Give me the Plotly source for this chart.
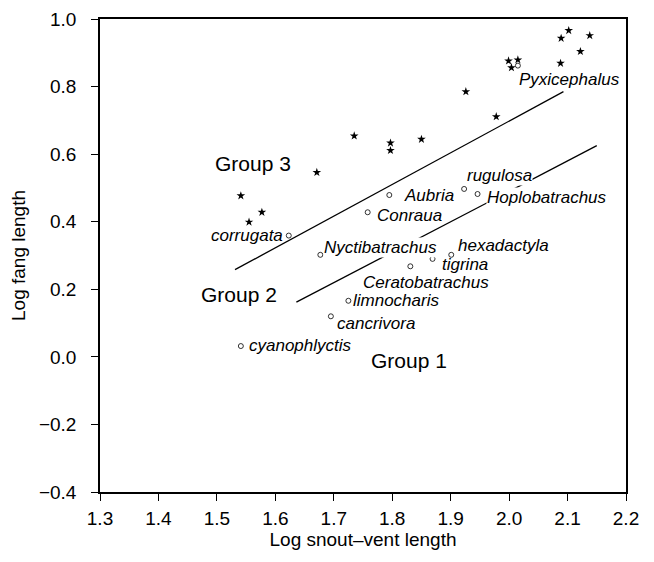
import plotly.graph_objects as go

# Group 3 species (stars), unlabeled
star_x = [2.102, 2.089, 2.138, 2.122, 2.088, 1.999, 2.015, 2.004, 1.926, 1.978,
          1.735, 1.797, 1.797, 1.850, 1.671, 1.541, 1.577, 1.555]
star_y = [0.966, 0.943, 0.951, 0.904, 0.869, 0.876, 0.879, 0.856, 0.785, 0.711,
          0.654, 0.633, 0.611, 0.644, 0.546, 0.477, 0.428, 0.399]

# Labelled species (open circles)
species = ["Pyxicephalus", "corrugata", "Aubria", "Conraua", "Nyctibatrachus",
           "rugulosa", "Hoplobatrachus", "hexadactyla", "tigrina", "Ceratobatrachus",
           "limnocharis", "cancrivora", "cyanophlyctis"]
sp_x = [2.015, 1.623, 1.795, 1.758, 1.677, 1.923, 1.946, 1.901, 1.869, 1.831,
        1.725, 1.695, 1.541]
sp_y = [0.862, 0.359, 0.479, 0.428, 0.302, 0.497, 0.482, 0.302, 0.290, 0.268,
        0.166, 0.120, 0.032]

# Group boundary lines (start/end in data units)
line_upper_x = [1.531, 2.093]
line_upper_y = [0.258, 0.785]
line_lower_x = [1.636, 2.150]
line_lower_y = [0.162, 0.625]

group_names = ["Group 3", "Group 2", "Group 1"]
group_x = [1.5625, 1.537, 1.829]
group_y = [0.571, 0.184, -0.010]

x_ticks = [1.3, 1.4, 1.5, 1.6, 1.7, 1.8, 1.9, 2.0, 2.1, 2.2]
y_ticks = [-0.4, -0.2, 0.0, 0.2, 0.4, 0.6, 0.8, 1.0]

# label placement (pixel offsets from point): xanchor, xshift, yshift, masked
label_style = {
    "Pyxicephalus": ("left", 0, -14, True),
    "corrugata": ("right", -5, 0, False),
    "Aubria": ("left", 14, 0, False),
    "Conraua": ("left", 8, -3, False),
    "Nyctibatrachus": ("left", 3, 7, True),
    "rugulosa": ("left", 2, 13, True),
    "Hoplobatrachus": ("left", 8, -3, True),
    "hexadactyla": ("left", 6, 9, False),
    "tigrina": ("left", 8, -5.5, False),
    "Ceratobatrachus": ("left", -48, -16, False),
    "limnocharis": ("left", 4, 0.5, False),
    "cancrivora": ("left", 5, -7, False),
    "cyanophlyctis": ("left", 7, 1, False),
}

FONT = "Arial, Liberation Sans, Helvetica, sans-serif"

fig = go.Figure()
fig.add_trace(go.Scatter(x=line_upper_x, y=line_upper_y, mode="lines",
                         line=dict(color="black", width=1.3), showlegend=False,
                         hoverinfo="skip"))
fig.add_trace(go.Scatter(x=line_lower_x, y=line_lower_y, mode="lines",
                         line=dict(color="black", width=1.3), showlegend=False,
                         hoverinfo="skip"))
fig.add_trace(go.Scatter(x=star_x, y=star_y, mode="markers",
                         marker=dict(symbol="star", size=6.5, color="black",
                                     line=dict(width=0)),
                         showlegend=False))
fig.add_trace(go.Scatter(x=sp_x, y=sp_y, mode="markers", text=species,
                         marker=dict(symbol="circle-open", size=5, color="black",
                                     line=dict(width=0.8, color="black")),
                         showlegend=False))

for name, x, y in zip(species, sp_x, sp_y):
    xa, xs, ys, masked = label_style[name]
    fig.add_annotation(x=x, y=y, text=name, showarrow=False, xanchor=xa,
                       yanchor="middle", xshift=xs, yshift=ys, borderpad=0,
                       bgcolor="white" if masked else "rgba(0,0,0,0)",
                       font=dict(family=FONT, size=17, color="black", style="italic"))

for name, x, y in zip(group_names, group_x, group_y):
    fig.add_annotation(x=x, y=y, text=name, showarrow=False, xanchor="center",
                       yanchor="middle", font=dict(family=FONT, size=21, color="black"))

axis_common = dict(showgrid=False, zeroline=False, showline=True, linecolor="black",
                   linewidth=1.5, mirror=True, ticks="outside", ticklen=7,
                   tickwidth=1.2, tickcolor="black", automargin=False,
                   ticklabeloverflow="allow",
                   tickfont=dict(family=FONT, size=19, color="black"))

fig.update_xaxes(range=[1.3, 2.2], tickvals=x_ticks,
                 ticktext=[f"{v:.1f}" for v in x_ticks],
                 title=dict(text="Log snout\u2013vent length",
                            font=dict(family=FONT, size=19, color="black"),
                            standoff=2),
                 ticklabelstandoff=1, **axis_common)
fig.update_yaxes(range=[-0.4, 1.0], tickvals=y_ticks,
                 ticktext=[f"{v:.1f}".replace("-", "\u2212") for v in y_ticks],
                 title=dict(text="Log fang length",
                            font=dict(family=FONT, size=19, color="black"),
                            standoff=9),
                 ticklabelstandoff=11, **axis_common)

fig.update_layout(width=654, height=562, plot_bgcolor="white", paper_bgcolor="white",
                  margin=dict(l=92, r=36, t=11, b=78, autoexpand=False),
                  showlegend=False,
                  font=dict(family=FONT, color="black"))

fig.write_html("out.html")
